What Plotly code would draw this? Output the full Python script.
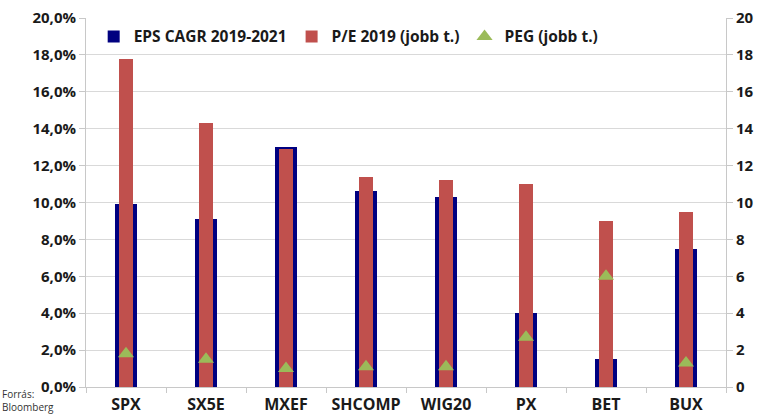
import plotly.graph_objects as go

# Index names and values
categories = ["SPX", "SX5E", "MXEF", "SHCOMP", "WIG20", "PX", "BET", "BUX"]
eps_cagr = [9.9, 9.1, 13.0, 10.6, 10.3, 4.0, 1.5, 7.5]      # % (left axis)
pe_2019 = [17.8, 14.3, 12.9, 11.4, 11.2, 11.0, 9.0, 9.5]      # right axis
peg = [1.8, 1.5, 1.0, 1.1, 1.1, 2.7, 6.0, 1.3]               # right axis

left_ticks = list(range(0, 21, 2))
left_labels = [f"{v:.1f}%".replace(".", ",") for v in left_ticks]
right_ticks = list(range(0, 21, 2))

FONT = "Open Sans"
BLUE = "#000080"
RED = "#C0504D"
GREEN = "#9BBB59"

fig = go.Figure()
fig.add_trace(go.Bar(
    x=categories, y=eps_cagr, name="EPS CAGR 2019-2021",
    marker=dict(color=BLUE, line=dict(width=0)), width=0.28, yaxis="y",
))
fig.add_trace(go.Bar(
    x=categories, y=pe_2019, name="P/E 2019 (jobb t.)",
    marker=dict(color=RED, line=dict(width=0)), width=0.175, yaxis="y2",
))
fig.add_trace(go.Scatter(
    x=categories, y=peg, name="PEG (jobb t.)", mode="markers",
    marker=dict(symbol="triangle-up", color=GREEN, size=14), yaxis="y2",
))

axis_font = dict(family=FONT, size=15, color="#1a1a1a", weight="bold")

fig.update_layout(
    width=760, height=417,
    margin=dict(l=86, r=34, t=18, b=30),
    paper_bgcolor="white", plot_bgcolor="white",
    barmode="overlay", bargap=0,
    separators=",.",
    showlegend=True,
    legend=dict(
        orientation="h", x=0.012, y=0.995, xanchor="left", yanchor="top",
        font=dict(family=FONT, size=15.5, color="#1a1a1a", weight="bold"),
        bgcolor="rgba(0,0,0,0)", tracegroupgap=0,
    ),
    xaxis=dict(
        type="category", range=[-0.5, 7.5], automargin=False, tickangle=0,
        showgrid=False, showline=True, linecolor="#c8c8c8", linewidth=1,
        ticks="outside", tickson="boundaries", ticklen=5, tickcolor="#c8c8c8",
        ticklabelstandoff=3,
        tickfont=dict(family=FONT, size=16, color="#1a1a1a", weight="bold"),
    ),
    yaxis=dict(
        range=[0, 20], tickvals=left_ticks, ticktext=left_labels,
        automargin=False,
        showgrid=True, gridcolor="#d9d9d9", gridwidth=1,
        showline=True, linecolor="#c8c8c8", ticks="outside", ticklen=6,
        tickcolor="#c8c8c8", tickfont=axis_font, zeroline=False,
    ),
    yaxis2=dict(
        range=[0, 20], tickvals=right_ticks, overlaying="y", side="right",
        automargin=False,
        showgrid=False, showline=True, linecolor="#c8c8c8", ticks="outside",
        ticklen=6, tickcolor="#c8c8c8", tickfont=axis_font, zeroline=False,
    ),
)

fig.add_annotation(
    text="Forrás:<br>Bloomberg", xref="paper", yref="paper",
    x=-0.134, y=0.005, xanchor="left", yanchor="top", showarrow=False,
    align="left", font=dict(family=FONT, size=10, color="#333333"),
)

fig.write_html("out.html")
